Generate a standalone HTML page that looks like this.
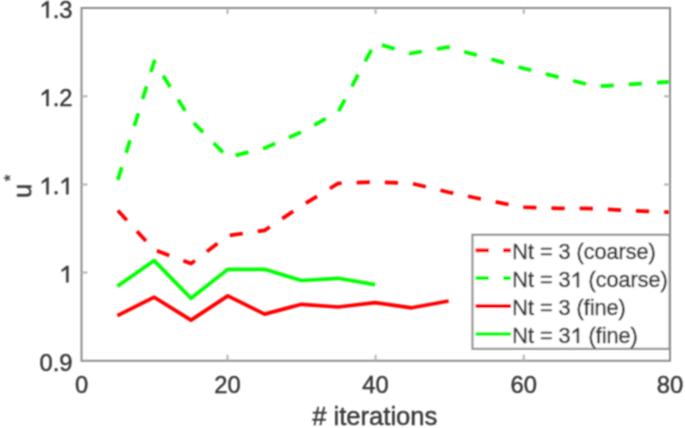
<!DOCTYPE html>
<html><head><meta charset="utf-8"><style>
html,body{margin:0;padding:0;background:#fff;width:685px;height:428px;overflow:hidden}
svg{display:block;will-change:transform}
text{font-family:"Liberation Sans",sans-serif;fill:#3a3a3a;stroke:#3a3a3a;stroke-width:0.45px}
.g1{fill:#3a3a3a;stroke:#3a3a3a;stroke-width:0.45px;stroke-linejoin:round}
</style></head><body>
<svg width="685" height="428" viewBox="0 0 685 428">
<defs><filter id="soft" x="0" y="0" width="685" height="428" filterUnits="userSpaceOnUse"><feConvolveMatrix order="3" kernelMatrix="1 2 1 2 4 2 1 2 1" divisor="16" edgeMode="duplicate"/></filter></defs>
<rect width="685" height="428" fill="#fff"/>
<g filter="url(#soft)">
<g fill="none" stroke-width="3.7" stroke-linejoin="round">
<polyline points="117.4,210.1 154.2,249.8 191.0,263.6 227.8,235.7 264.6,230.4 301.4,205.9 338.2,183.4 375.0,181.9 411.8,183.5 448.6,192.2 485.4,199.9 522.2,207.2 559.0,208.3 595.8,208.6 632.6,210.8 669.4,212.2" stroke="#ff0000" stroke-dasharray="13.2 15.0" stroke-dashoffset="-0.6"/>
<polyline points="117.4,181.4 154.2,61.3 191.0,120.2 227.8,157.3 264.6,148.1 301.4,132.0 338.2,112.0 375.0,43.0 410.0,53.5 447.9,47.1 522.2,68.0 595.8,86.5 669.4,81.9" stroke="#00ff00" stroke-dasharray="13.2 15.0" stroke-dashoffset="-1.6"/>
<polyline points="117.4,315.7 154.2,297.2 191.0,320.1 227.8,295.9 264.6,314.1 301.4,304.3 338.2,307.0 375.0,302.6 411.8,307.8 448.6,301.0" stroke="#ff0000"/>
<polyline points="117.4,286.3 154.2,260.6 191.0,298.3 227.8,269.4 264.6,269.3 301.4,280.5 338.2,278.3 375.0,284.6" stroke="#00ff00"/>
</g>
<rect x="81.5" y="8.0" width="588.5" height="352.8" fill="none" stroke="#8e8e8e" stroke-width="2"/>
<path d="M227.5,360.8v-6M227.5,8.0v6M375.6,360.8v-6M375.6,8.0v6M523.8,360.8v-6M523.8,8.0v6M81.5,272.6h6M670.0,272.6h-6M81.5,184.5h6M670.0,184.5h-6M81.5,96.3h6M670.0,96.3h-6" stroke="#b4b4b4" stroke-width="2" fill="none"/>
<text x="74.88" y="393" font-size="23.8">0</text>
<text x="214.26" y="393" font-size="23.8">20</text>
<text x="362.36" y="393" font-size="23.8">40</text>
<text x="510.56" y="393" font-size="23.8">60</text>
<text x="656.76" y="393" font-size="23.8">80</text>
<text x="39.41" y="370.5" font-size="23.8">0.9</text>
<text x="59.26" y="282.3" font-size="23.8"><tspan style="fill:none;stroke:none">1</tspan></text><path class="g1" d="M68.42,282.30L68.42,265.88L66.64,265.88L61.76,269.69L61.76,271.71L66.28,268.97L66.28,282.30Z"/>
<text x="39.41" y="194.2" font-size="23.8"><tspan style="fill:none;stroke:none">1</tspan>.<tspan style="fill:none;stroke:none">1</tspan></text><path class="g1" d="M48.57,194.20L48.57,177.78L46.78,177.78L41.91,181.59L41.91,183.61L46.43,180.87L46.43,194.20ZM68.42,194.20L68.42,177.78L66.64,177.78L61.76,181.59L61.76,183.61L66.28,180.87L66.28,194.20Z"/>
<text x="39.41" y="106.0" font-size="23.8"><tspan style="fill:none;stroke:none">1</tspan>.2</text><path class="g1" d="M48.57,106.00L48.57,89.58L46.78,89.58L41.91,93.39L41.91,95.41L46.43,92.67L46.43,106.00Z"/>
<text x="39.41" y="17.7" font-size="23.8"><tspan style="fill:none;stroke:none">1</tspan>.3</text><path class="g1" d="M48.57,17.70L48.57,1.28L46.78,1.28L41.91,5.09L41.91,7.11L46.43,4.37L46.43,17.70Z"/>
<text x="374.8" y="424.9" text-anchor="middle" font-size="25.6" letter-spacing="0"># iterations</text>
<g transform="translate(31.2,198) rotate(-90)"><text x="0" y="0" font-size="25.6">u<tspan dx="2.6" dy="-15.5" font-size="17">*</tspan></text></g>
<rect x="472.5" y="234.8" width="197.10000000000002" height="114.0" fill="#fff" stroke="#8e8e8e" stroke-width="2"/>
<path d="M475.5,250.3h13.5M503,250.3h8" stroke="#ff0000" stroke-width="3.7" fill="none"/>
<text x="512.3" y="259.3" font-size="21.6">Nt = 3 (coarse)</text>
<path d="M475.5,278.2h13.5M503,278.2h8" stroke="#00ff00" stroke-width="3.7" fill="none"/>
<text x="512.3" y="287.2" font-size="21.6">Nt = 3<tspan style="fill:none;stroke:none">1</tspan> (coarse)</text>
<path class="g1" d="M578.86,287.20L578.86,272.30L577.24,272.30L572.81,275.75L572.81,277.59L576.91,275.10L576.91,287.20Z"/>
<path d="M475.5,306.1h35.5" stroke="#ff0000" stroke-width="3.7" fill="none"/>
<text x="512.3" y="315.1" font-size="21.6">Nt = 3 (fine)</text>
<path d="M475.5,334.0h35.5" stroke="#00ff00" stroke-width="3.7" fill="none"/>
<text x="512.3" y="343.0" font-size="21.6">Nt = 3<tspan style="fill:none;stroke:none">1</tspan> (fine)</text>
<path class="g1" d="M578.86,343.00L578.86,328.10L577.24,328.10L572.81,331.55L572.81,333.39L576.91,330.90L576.91,343.00Z"/>
</g></svg>
</body></html>
